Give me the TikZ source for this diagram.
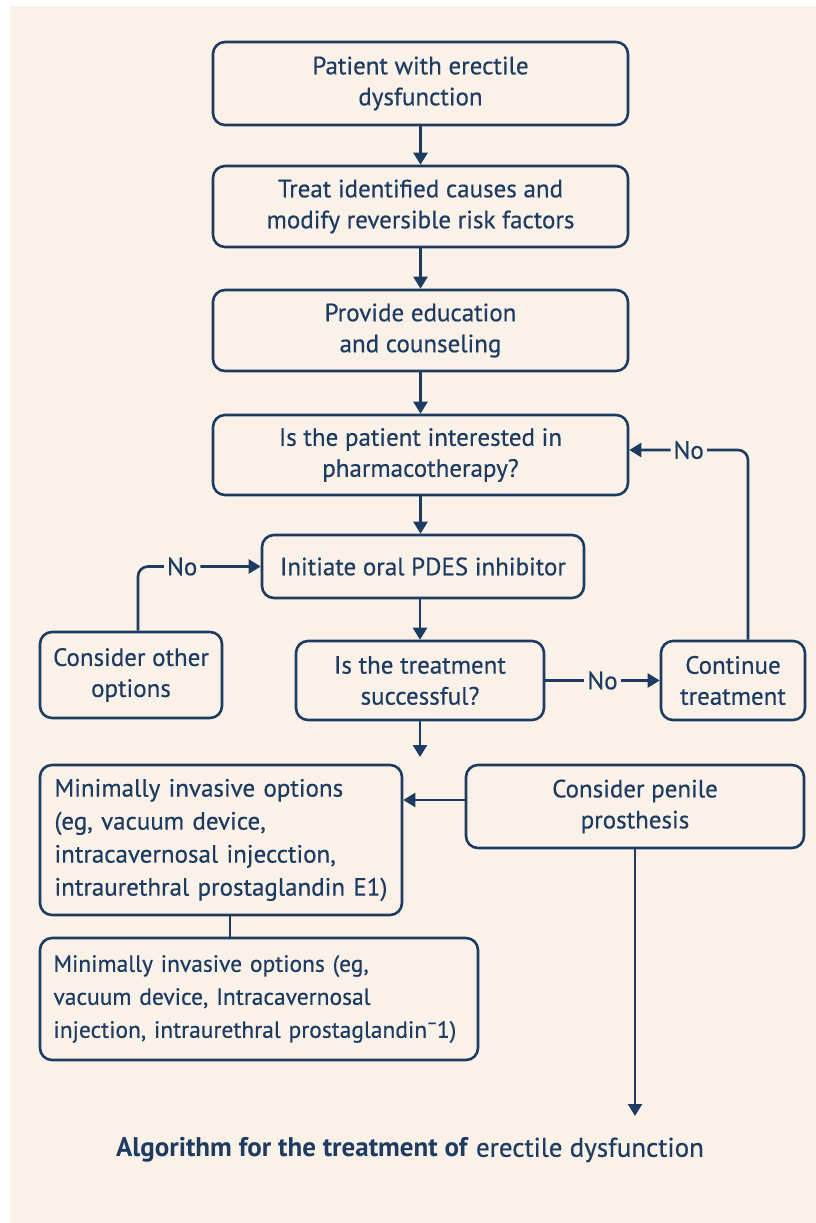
\documentclass[tikz,border=0pt]{standalone}
\usepackage{fontspec}
\setmainfont{PT Sans}[UprightFeatures={FakeBold=0.5}]
\usetikzlibrary{arrows.meta}
\definecolor{navy}{RGB}{30,60,98}
\definecolor{cream}{RGB}{250,241,233}

\begin{document}
\begin{tikzpicture}[x=1pt, y=-1pt,
    box/.style={draw=navy, line width=2.6pt, rounded corners=12pt, text=navy, align=center, inner sep=0pt, font=\fontsize{25}{31}\selectfont},
    leftbox/.style={box, align=left, font=\fontsize{25}{33}\selectfont},
    link/.style={draw=navy, line width=2.6pt, -{Triangle[length=12pt,width=14pt]}},
    plain/.style={draw=navy, line width=2.6pt},
    lbl/.style={text=navy, fill=cream, inner sep=3pt, font=\fontsize{25}{28}\selectfont}]

    % draw background
    \fill[white] (0,0) rectangle (816,1223);
    \fill[cream] (10,6) rectangle (816,1223);
    \useasboundingbox (0,0) rectangle (816,1223);

    % draw boxes
    \node[box, minimum width=415pt, minimum height=83pt] (patient) at (420.5,83.5) {Patient with erectile\\dysfunction};
    \node[box, minimum width=415pt, minimum height=81pt] (treat) at (420.5,206.5) {Treat identified causes and\\modify reversible risk factors};
    \node[box, minimum width=415pt, minimum height=81pt] (educate) at (420.5,330.5) {Provide education\\and counseling};
    \node[box, minimum width=415pt, minimum height=80pt] (interest) at (420.5,455) {Is the patient interested in\\pharmacotherapy?};
    \node[box, minimum width=322pt, minimum height=63pt] (initiate) at (423,566.5) {Initiate oral PDES inhibitor};
    \node[box, minimum width=182pt, minimum height=86pt] (other) at (131,675) {Consider other\\options};
    \node[box, minimum width=248pt, minimum height=79pt] (success) at (420,680.5) {Is the treatment\\successful?};
    \node[box, minimum width=144pt, minimum height=79pt] (continue) at (733,680.5) {Continue\\treatment};
    \node[leftbox, text width=333pt, minimum width=362pt, minimum height=150pt] (minimal) at (221,840)
      {Minimally invasive options\\(eg, vacuum device,\\intracavernosal injecction,\\intraurethral prostaglandin E1)};
    \node[box, minimum width=338pt, minimum height=83pt] (prosthesis) at (635,806.5) {Consider penile\\prosthesis};
    \node[leftbox, text width=411pt, minimum width=438pt, minimum height=122pt, font=\fontsize{23.5}{33}\selectfont] (minimaltwo) at (259,999)
      {Minimally invasive options (eg,\\vacuum device, Intracavernosal\\\mbox{injection, intraurethral prostaglandin¯1)}};

    % draw title
    \node[text=navy, font=\fontsize{27}{30}\selectfont] (title) at (410,1150) {\textbf{Algorithm for the treatment of} erectile dysfunction};

    % free ends
    \coordinate (downone) at (420,757);
    \coordinate (downtwo) at (635,1116);
    \coordinate (loopup) at (748,450);

    % draw arrows
    \draw[link] (patient) -- (treat);
    \draw[link] (treat) -- (educate);
    \draw[link] (educate) -- (interest);
    \draw[link] (interest.south) -- (interest.south |- initiate.north);
    \draw[link] (initiate.south -| success.north) -- (success.north);
    \draw[link] (success) -- (downone);
    \draw[link] (success) -- node[lbl] {No} (continue);
    \draw[link, rounded corners=10pt] (loopup |- continue.north) -- (loopup) -- node[lbl] {No} (interest.east |- loopup);
    \draw[link, rounded corners=10pt] ([xshift=7pt]other.north) |- node[lbl, pos=0.68] {No} (initiate.west);
    \draw[link] (prosthesis.west |- 0,800) -- (minimal.east |- 0,800);
    \draw[link, line width=2pt] (prosthesis.south) -- (downtwo);
    \draw[plain] ([xshift=9pt]minimal.south) -- ([xshift=9pt]minimal.south |- minimaltwo.north);
\end{tikzpicture}
\end{document}
